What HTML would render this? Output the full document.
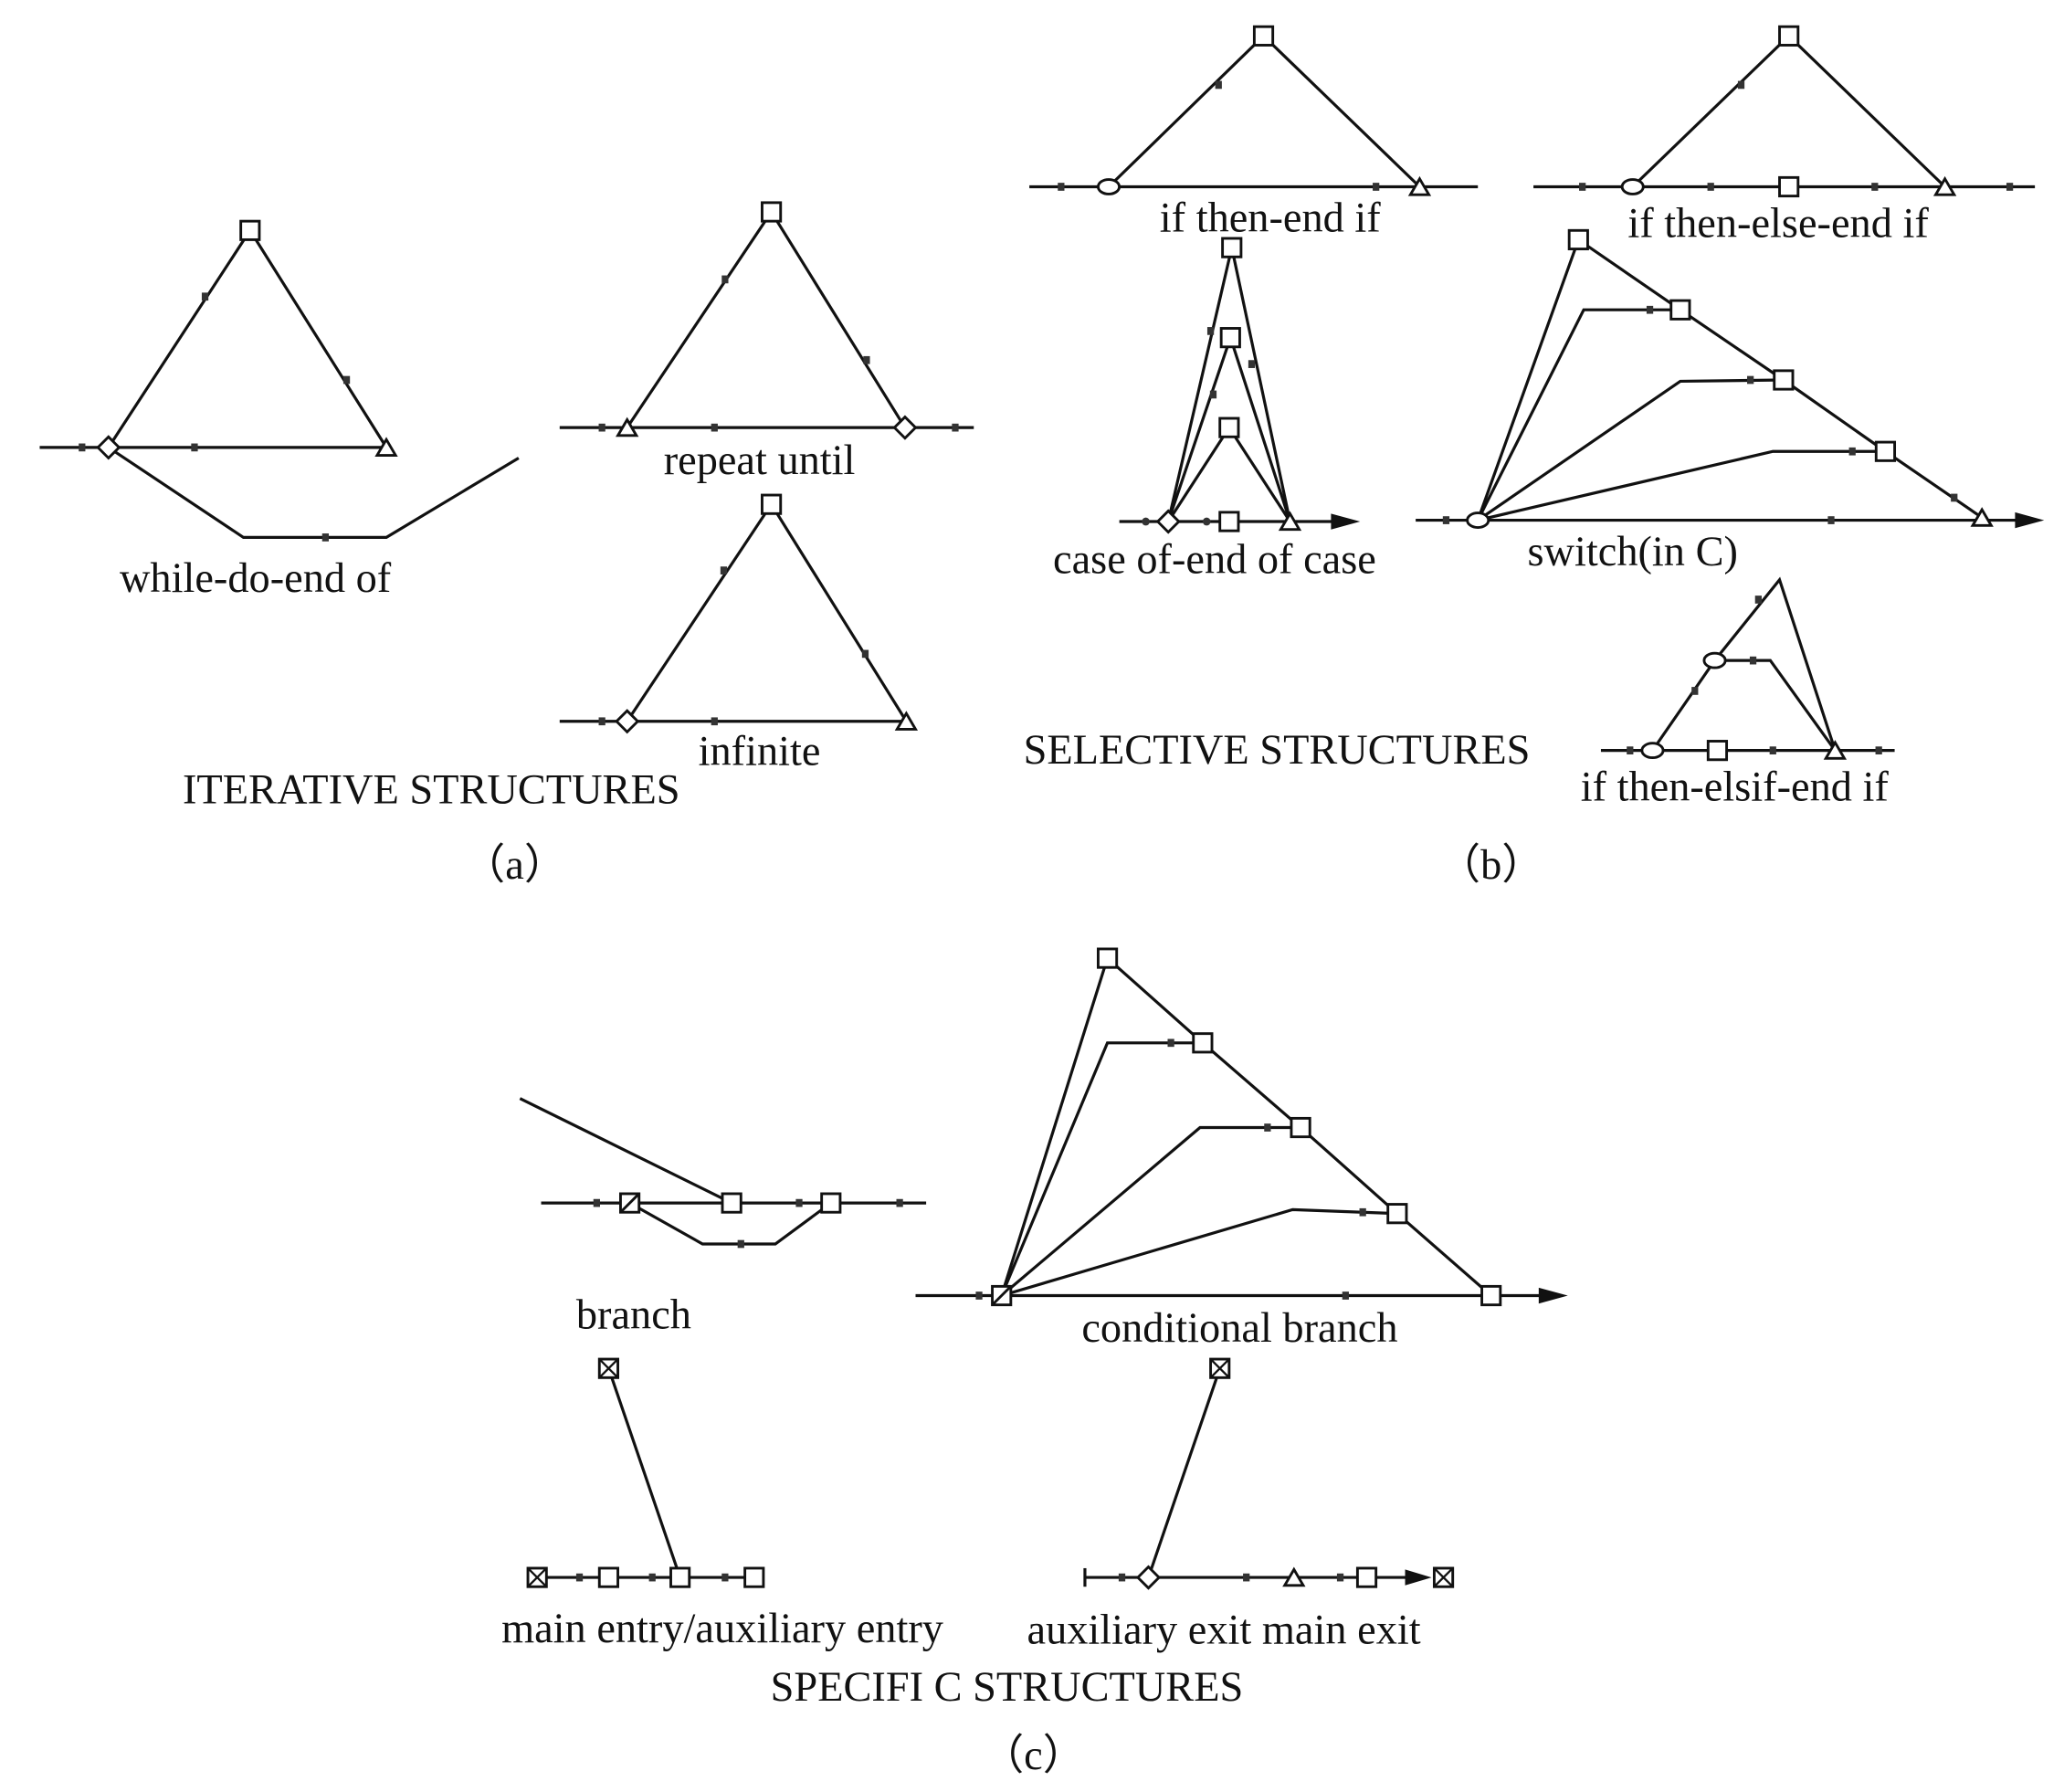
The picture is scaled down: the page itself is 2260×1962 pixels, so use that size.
<!DOCTYPE html>
<html><head><meta charset="utf-8"><style>html,body{margin:0;padding:0;background:#fff}svg{display:block}</style></head>
<body>
<svg width="2260" height="1962" viewBox="0 0 1560 1354" xmlns="http://www.w3.org/2000/svg">
<defs>
<g id="sq"><rect x="-7" y="-7" width="14" height="14" fill="#fff" stroke="#111" stroke-width="2"/></g>
<g id="sqs"><rect x="-7" y="-7" width="14" height="14" fill="#fff" stroke="#111" stroke-width="2"/><line x1="-7" y1="7" x2="7" y2="-7" stroke="#111" stroke-width="2"/></g>
<g id="sqx"><rect x="-7" y="-7" width="14" height="14" fill="#fff" stroke="#111" stroke-width="2"/><line x1="-7" y1="7" x2="7" y2="-7" stroke="#111" stroke-width="1.6"/><line x1="-7" y1="-7" x2="7" y2="7" stroke="#111" stroke-width="1.6"/></g>
<g id="tri"><polygon points="0,-7 7,5 -7,5" fill="#fff" stroke="#111" stroke-width="2"/></g>
<g id="dia"><polygon points="0,-8 8,0 0,8 -8,0" fill="#fff" stroke="#111" stroke-width="2"/></g>
<g id="ell"><ellipse rx="8" ry="5.5" fill="#fff" stroke="#111" stroke-width="2"/></g>
<g id="tk"><rect x="-2.5" y="-3" width="5" height="6" fill="#333"/></g>
<g id="dot"><circle r="3" fill="#333"/></g>
</defs>
<g fill="none" stroke="#111" stroke-width="2.2">
<polyline points="30,338 292,338"/>
<polyline points="82,338 189,174 292,338"/>
<polyline points="82,338 184,406 292,406 392,346"/>
<polyline points="423,323 736,323"/>
<polyline points="474,323 583,160 684,323"/>
<polyline points="423,545 686,545"/>
<polyline points="474,545 583,381 685,545"/>
<polyline points="778,141 1117,141"/>
<polyline points="838,141 955,27 1073,141"/>
<polyline points="1159,141 1538,141"/>
<polyline points="1234,141 1352,27 1470,141"/>
<polyline points="846,394 1010,394"/>
<polyline points="883,394 931,187 975,394"/>
<polyline points="883,394 930,255 975,394"/>
<polyline points="883,394 929,323 975,394"/>
<polyline points="1070,393 1525,393"/>
<polyline points="1117,393 1193,181 1270,234 1348,287 1425,341 1498,391"/>
<polyline points="1117,393 1197,234 1270,234"/>
<polyline points="1117,393 1270,288 1348,287"/>
<polyline points="1117,393 1340,341 1425,341"/>
<polyline points="1210,567 1432,567"/>
<polyline points="1249,567 1296,499 1345,438 1387,567"/>
<polyline points="1296,499 1338,499 1387,567"/>
<polyline points="393,830 553,909"/>
<polyline points="409,909 700,909"/>
<polyline points="476,909 531,940 586,940 628,909"/>
<polyline points="692,979 1165,979"/>
<polyline points="757,979 837,724 909,788 983,852 1056,917 1127,979"/>
<polyline points="757,979 837,788 909,788"/>
<polyline points="757,979 907,852 983,852"/>
<polyline points="757,979 977,914 1056,917"/>
<polyline points="406,1192 570,1192"/>
<polyline points="460,1034 514,1192"/>
<polyline points="820,1192 1072,1192"/>
<polyline points="820,1185 820,1199"/>
<polyline points="868,1192 922,1034"/>
</g>
<polygon points="1028,394 1006,388 1006,400" fill="#111"/>
<polygon points="1545,393 1523,387 1523,399" fill="#111"/>
<polygon points="1185,979 1163,973 1163,985" fill="#111"/>
<polygon points="1082,1192 1062,1186 1062,1198" fill="#111"/>
<g>
<use href="#tk" x="155" y="224"/><use href="#tk" x="262" y="287"/><use href="#tk" x="147" y="338"/><use href="#tk" x="62" y="338"/><use href="#tk" x="246" y="406"/>
<use href="#tk" x="548" y="211"/><use href="#tk" x="655" y="272"/><use href="#tk" x="540" y="323"/><use href="#tk" x="455" y="323"/><use href="#tk" x="722" y="323"/>
<use href="#tk" x="547" y="431"/><use href="#tk" x="654" y="494"/><use href="#tk" x="540" y="545"/><use href="#tk" x="455" y="545"/>
<use href="#tk" x="921" y="64"/><use href="#tk" x="802" y="141"/><use href="#tk" x="1040" y="141"/>
<use href="#tk" x="1316" y="64"/><use href="#tk" x="1196" y="141"/><use href="#tk" x="1293" y="141"/><use href="#tk" x="1417" y="141"/><use href="#tk" x="1519" y="141"/>
<use href="#tk" x="915" y="250"/><use href="#tk" x="917" y="298"/><use href="#tk" x="946" y="275"/>
<use href="#dot" x="866" y="394"/><use href="#dot" x="912" y="394"/>
<use href="#tk" x="1247" y="234"/><use href="#tk" x="1323" y="287"/><use href="#tk" x="1400" y="341"/><use href="#tk" x="1477" y="376"/><use href="#tk" x="1384" y="393"/><use href="#tk" x="1093" y="393"/>
<use href="#tk" x="1329" y="453"/><use href="#tk" x="1281" y="522"/><use href="#tk" x="1325" y="499"/><use href="#tk" x="1232" y="567"/><use href="#tk" x="1340" y="567"/><use href="#tk" x="1420" y="567"/>
<use href="#tk" x="451" y="909"/><use href="#tk" x="604" y="909"/><use href="#tk" x="680" y="909"/><use href="#tk" x="560" y="940"/>
<use href="#tk" x="885" y="788"/><use href="#tk" x="958" y="852"/><use href="#tk" x="1030" y="916"/><use href="#tk" x="1017" y="979"/><use href="#tk" x="740" y="979"/>
<use href="#tk" x="438" y="1192"/><use href="#tk" x="493" y="1192"/><use href="#tk" x="548" y="1192"/>
<use href="#tk" x="848" y="1192"/><use href="#tk" x="942" y="1192"/><use href="#tk" x="1013" y="1192"/>
</g>
<g>
<use href="#dia" x="82" y="338"/><use href="#tri" x="292" y="339"/><use href="#sq" x="189" y="174"/>
<use href="#tri" x="474" y="324"/><use href="#dia" x="684" y="323"/><use href="#sq" x="583" y="160"/>
<use href="#dia" x="474" y="545"/><use href="#tri" x="685" y="546"/><use href="#sq" x="583" y="381"/>
<use href="#ell" x="838" y="141"/><use href="#tri" x="1073" y="142"/><use href="#sq" x="955" y="27"/>
<use href="#ell" x="1234" y="141"/><use href="#sq" x="1352" y="141"/><use href="#tri" x="1470" y="142"/><use href="#sq" x="1352" y="27"/>
<use href="#dia" x="883" y="394"/><use href="#sq" x="929" y="394"/><use href="#tri" x="975" y="395"/>
<use href="#sq" x="931" y="187"/><use href="#sq" x="930" y="255"/><use href="#sq" x="929" y="323"/>
<use href="#ell" x="1117" y="393"/><use href="#sq" x="1193" y="181"/><use href="#sq" x="1270" y="234"/><use href="#sq" x="1348" y="287"/><use href="#sq" x="1425" y="341"/><use href="#tri" x="1498" y="392"/>
<use href="#ell" x="1249" y="567"/><use href="#sq" x="1298" y="567"/><use href="#tri" x="1387" y="568"/><use href="#ell" x="1296" y="499"/>
<use href="#sqs" x="476" y="909"/><use href="#sq" x="553" y="909"/><use href="#sq" x="628" y="909"/>
<use href="#sqs" x="757" y="979"/><use href="#sq" x="837" y="724"/><use href="#sq" x="909" y="788"/><use href="#sq" x="983" y="852"/><use href="#sq" x="1056" y="917"/><use href="#sq" x="1127" y="979"/>
<use href="#sqx" x="460" y="1034"/><use href="#sqx" x="406" y="1192"/><use href="#sq" x="460" y="1192"/><use href="#sq" x="514" y="1192"/><use href="#sq" x="570" y="1192"/>
<use href="#dia" x="868" y="1192"/><use href="#tri" x="978" y="1193"/><use href="#sq" x="1033" y="1192"/><use href="#sqx" x="1091" y="1192"/><use href="#sqx" x="922" y="1034"/>
</g>
<g font-family="Liberation Serif, serif" font-size="32" fill="#111" text-anchor="middle">
<text x="193" y="447">while-do-end of</text>
<text x="574" y="358">repeat until</text>
<text x="574" y="578">infinite</text>
<text x="326" y="607">ITERATIVE STRUCTURES</text>
<text x="389" y="664">（a）</text>
<text x="960" y="175">if then-end if</text>
<text x="1344" y="179">if then-else-end if</text>
<text x="918" y="433">case of-end of case</text>
<text x="1234" y="427">switch(in C)</text>
<text x="965" y="577">SELECTIVE STRUCTURES</text>
<text x="1311" y="605">if then-elsif-end if</text>
<text x="1127" y="664">（b）</text>
<text x="479" y="1004">branch</text>
<text x="937" y="1014">conditional branch</text>
<text x="546" y="1241">main entry/auxiliary entry</text>
<text x="925" y="1242">auxiliary exit main exit</text>
<text x="761" y="1285">SPECIFI C STRUCTURES</text>
<text x="781" y="1337">（c）</text>
</g>
</svg>
</body></html>
